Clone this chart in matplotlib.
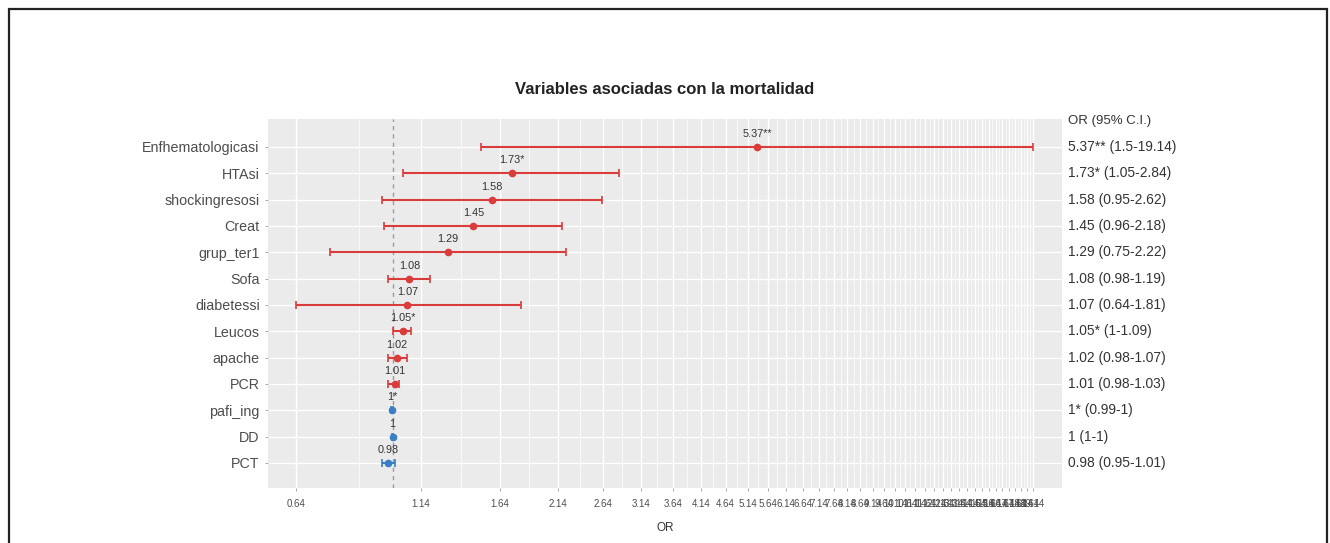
import matplotlib
matplotlib.use("Agg")
import matplotlib.pyplot as plt
import matplotlib.transforms as mtransforms
from matplotlib.patches import Rectangle
import numpy as np

plt.rcParams['font.family'] = ['Liberation Sans', 'DejaVu Sans']

# ---- data (top to bottom) ----
variables = ["Enfhematologicasi", "HTAsi", "shockingresosi", "Creat", "grup_ter1",
             "Sofa", "diabetessi", "Leucos", "apache", "PCR", "pafi_ing", "DD", "PCT"]
odds = [5.37, 1.73, 1.58, 1.45, 1.29, 1.08, 1.07, 1.05, 1.02, 1.01, 0.998, 0.999, 0.98]
ci_low = [1.50, 1.05, 0.95, 0.96, 0.75, 0.98, 0.64, 1.00, 0.98, 0.98, 0.99, 0.998, 0.95]
ci_high = [19.14, 2.84, 2.62, 2.18, 2.22, 1.19, 1.81, 1.09, 1.07, 1.03, 1.00, 1.00, 1.01]
signif = ["**", "*", "", "", "", "", "", "*", "", "", "*", "", ""]
x_breaks = [round(0.64 + 0.5 * k, 2) for k in range(38)]   # 0.64 ... 19.14

title = "Variables asociadas con la mortalidad"
header = "OR (95% C.I.)"
xlabel = "OR"

RED = "#DA3B3B"
BLUE = "#3A7FC1"


def fmt(v):
    return f"{round(v, 2):g}"


W, H = 1330, 543
fig = plt.figure(figsize=(W / 100, H / 100), dpi=100)
ax = fig.add_axes([268 / W, 1 - 488 / H, (1062 - 268) / W, (488 - 119) / H])
ax.set_facecolor("#EBEBEB")

n = len(variables)
ypos = np.arange(n)[::-1]  # top row highest

ax.set_xscale("log")
ax.set_xlim(0.5625, 21.9)
ax.set_ylim(-0.95, n + 0.06)

# grid
ax.set_xticks(x_breaks)
ax.set_xticklabels([f"{b:.2f}" for b in x_breaks])
ax.xaxis.set_minor_locator(matplotlib.ticker.NullLocator())
lb = np.log(x_breaks)
minors = np.exp((lb[:-1] + lb[1:]) / 2)
for m in minors:
    ax.axvline(m, color="white", lw=0.5, zorder=0.5)
for b in x_breaks:
    ax.axvline(b, color="white", lw=1.0, zorder=0.6)
for y in ypos:
    ax.axhline(y, color="white", lw=1.0, zorder=0.6)

ax.set_yticks(ypos)
ax.set_yticklabels(variables)

for s in ax.spines.values():
    s.set_visible(False)
ax.tick_params(axis="both", colors="#888888", length=2, width=0.5)
ax.tick_params(axis="x", labelsize=7, labelcolor="#4D4D4D", pad=6)
ax.tick_params(axis="y", labelsize=10.3, labelcolor="#4D4D4D", pad=4)

# reference line
ax.axvline(1.0, color="#9A9A9A", lw=1.0, ls=(0, (3, 3)), zorder=1)

# points and intervals
for i in range(n):
    col = RED if odds[i] > 1 else BLUE
    y = ypos[i]
    ax.errorbar(odds[i], y,
                xerr=[[odds[i] - ci_low[i]], [ci_high[i] - odds[i]]],
                fmt="o", color=col, ecolor=col, elinewidth=1.5, capsize=3,
                capthick=1.2, markersize=4.5, zorder=3)
    ax.text(odds[i], y + 0.3, fmt(odds[i]) + signif[i], ha="center", va="bottom",
            fontsize=7.8, color="#333333", zorder=4)

# right-hand labels
trans = mtransforms.blended_transform_factory(ax.transAxes, ax.transData)
xr = 1 + 6 / (1062 - 268)
ax.text(xr, n, header, transform=trans, ha="left", va="center", fontsize=9.5,
        color="#333333", clip_on=False)
for i in range(n):
    lab = f"{fmt(odds[i])}{signif[i]} ({fmt(ci_low[i])}-{fmt(ci_high[i])})"
    ax.text(xr, ypos[i], lab, transform=trans, ha="left", va="center", fontsize=9.9,
            color="#333333", clip_on=False)

ax.set_xlabel(xlabel, fontsize=8.5, color="#333333", labelpad=9)
fig.text(665 / W, 1 - 89 / H, title, ha="center", va="center", fontsize=12,
         fontweight="bold", color="#222222")

# outer frame
fig.patches.append(Rectangle((9 / W, -0.05), (1327 - 9) / W, 1.05 - 9 / H,
                             transform=fig.transFigure, fill=False,
                             edgecolor="#222222", lw=1.6, clip_on=False))

fig.savefig("out.png", dpi=100)
